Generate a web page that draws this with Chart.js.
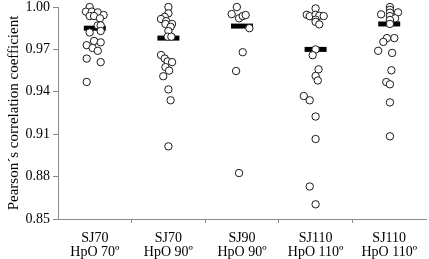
<!DOCTYPE html>
<html>
<head>
<meta charset="utf-8">
<script src="https://cdn.jsdelivr.net/npm/chart.js@4.4.1/dist/chart.umd.min.js"></script>
<style>
    html, body { margin: 0; padding: 0; background: #fff; }
    canvas { display: block; }
</style>
</head>
<body>
<canvas id="myChart" width="429" height="259"></canvas>
<script>
// Categories (two-line labels)
const categories = [
    ['SJ70', 'HpO 70º'],
    ['SJ70', 'HpO 90º'],
    ['SJ90', 'HpO 90º'],
    ['SJ110', 'HpO 110º'],
    ['SJ110', 'HpO 110º']
];

// Correlation values per group
const sj70hpo70 = [1.000, 0.9967, 0.9967, 0.9962, 0.9943, 0.9936, 0.9936, 0.992, 0.987, 0.987,
    0.983, 0.982, 0.976, 0.975, 0.973, 0.971, 0.969, 0.9635, 0.961, 0.947];
const sj70hpo90 = [1.000, 0.9955, 0.993, 0.9915, 0.990, 0.988, 0.988, 0.986, 0.983, 0.979,
    0.979, 0.966, 0.9635, 0.9615, 0.961, 0.9575, 0.955, 0.951, 0.9417, 0.934, 0.9014];
const sj90hpo90 = [1.000, 0.995, 0.992, 0.9936, 0.9943, 0.985, 0.968, 0.9547, 0.8825];
const sj110hpo110a = [0.999, 0.9945, 0.9935, 0.9945, 0.9938, 0.9936, 0.991, 0.9895, 0.9877, 0.970,
    0.9659, 0.9559, 0.9512, 0.948, 0.937, 0.934, 0.9225, 0.9066, 0.873, 0.8604];
const sj110hpo110b = [1.000, 0.998, 0.996, 0.9962, 0.9948, 0.9936, 0.992, 0.9908, 0.988, 0.978,
    0.978, 0.9753, 0.969, 0.9675, 0.9552, 0.9469, 0.9453, 0.9325, 0.9085];

// Horizontal jitter of each point (fraction of a category)
const jit70hpo70 = [-0.07, -0.12, -0.04, 0.04, 0.12, -0.07, -0.01, 0.07, 0.04, 0.08,
    0.08, -0.07, -0.01, 0.08, -0.11, -0.03, 0.04, -0.11, 0.08, -0.11];
const jit70hpo90 = [0, 0, -0.05, -0.1, -0.03, -0.04, 0.05, 0.03, 0, -0.01,
    0.04, -0.1, -0.05, -0.01, 0.05, -0.04, 0.01, -0.07, 0, 0.03, 0];
const jit90hpo90 = [-0.07, -0.14, -0.04, 0.01, 0.05, 0.1, 0.01, -0.08, -0.04];
const jit110hpo110a = [0, -0.12, -0.08, 0, 0.05, 0.11, 0, 0, 0.05, 0,
    -0.04, 0.04, 0, 0.03, -0.16, -0.08, 0, 0, -0.08, 0];
const jit110hpo110b = [0.01, 0.01, 0.01, 0.12, -0.11, 0.01, 0.08, 0.01, 0.01, -0.03,
    0.07, -0.08, -0.15, 0.04, 0.03, -0.04, 0.01, 0.01, 0.01];

// Group means (black bars)
const means = [0.985, 0.978, 0.9865, 0.970, 0.988];

const yTicks = [0.85, 0.88, 0.91, 0.94, 0.97, 1.00];

const groups = [sj70hpo70, sj70hpo90, sj90hpo90, sj110hpo110a, sj110hpo110b];
const jitters = [jit70hpo70, jit70hpo90, jit90hpo90, jit110hpo110a, jit110hpo110b];

const pointData = [];
groups.forEach((vals, i) => {
    vals.forEach((v, j) => pointData.push({ x: i + 1 + jitters[i][j], y: v }));
});
const meanData = means.map((m, i) => ({ x: i + 1, y: m }));

const serif = "'Liberation Serif', 'Times New Roman', serif";
const axisColor = '#8a8a8a';

const ctx = document.getElementById('myChart').getContext('2d');
new Chart(ctx, {
    type: 'scatter',
    data: {
        datasets: [
            {
                data: pointData,
                pointRadius: 3.7,
                pointBorderWidth: 1,
                pointBackgroundColor: '#fff',
                pointBorderColor: '#1a1a1a',
                clip: false
            },
            {
                data: meanData,
                pointStyle: 'line',
                pointRadius: 11,
                pointBorderWidth: 5,
                pointBorderColor: '#000',
                clip: false
            }
        ]
    },
    options: {
        responsive: false,
        animation: false,
        devicePixelRatio: 1,
        layout: { autoPadding: false, padding: { left: 0, right: 3, top: 7, bottom: 0 } },
        plugins: {
            legend: { display: false },
            tooltip: { enabled: false }
        },
        scales: {
            x: {
                type: 'linear',
                min: 0.5,
                max: 5.5,
                afterBuildTicks: scale => {
                    scale.ticks = [1, 1.5, 2, 2.5, 3, 3.5, 4, 4.5, 5].map(v => ({ value: v }));
                },
                afterFit: scale => {
                    scale.height = 40;
                    scale.paddingLeft = 0;
                    scale.paddingRight = 0;
                },
                ticks: {
                    autoSkip: false,
                    maxRotation: 0,
                    padding: 8,
                    color: '#000',
                    font: { family: serif, size: 14, lineHeight: 1 },
                    callback: v => Number.isInteger(v) ? categories[v - 1] : ''
                },
                grid: {
                    drawOnChartArea: false,
                    tickLength: 4,
                    color: c => (c.tick && !Number.isInteger(c.tick.value)) ? axisColor : 'rgba(0,0,0,0)'
                },
                border: { color: axisColor, width: 1 }
            },
            y: {
                min: 0.85,
                max: 1.0,
                afterBuildTicks: scale => {
                    scale.ticks = yTicks.map(v => ({ value: v }));
                },
                afterFit: scale => {
                    scale.width = 58;
                    scale.paddingTop = 0;
                    scale.paddingBottom = 0;
                },
                ticks: {
                    padding: 3,
                    color: '#000',
                    font: { family: serif, size: 14 },
                    callback: v => v.toFixed(2)
                },
                grid: {
                    drawOnChartArea: false,
                    tickLength: 5,
                    color: axisColor
                },
                border: { color: axisColor, width: 1 },
                title: {
                    display: true,
                    text: 'Pearson´s correlation coefficient',
                    color: '#000',
                    font: { family: serif, size: 15 },
                    padding: { top: 5, bottom: 0 }
                }
            }
        }
    }
});
</script>
</body>
</html>
